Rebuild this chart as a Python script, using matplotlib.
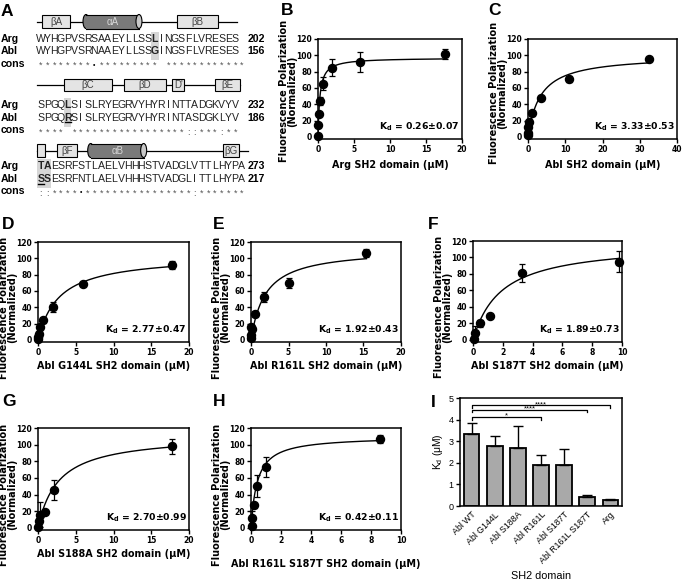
import numpy as np
import matplotlib
matplotlib.use('Agg')
import matplotlib.pyplot as plt
from matplotlib.patches import Rectangle, Ellipse

plt.rcParams['font.family'] = ['Liberation Sans', 'DejaVu Sans']
plt.rcParams['mathtext.fontset'] = 'custom'
plt.rcParams['mathtext.rm'] = 'Liberation Sans'
plt.rcParams['mathtext.bf'] = 'DejaVu Sans:bold'
plt.rcParams['mathtext.it'] = 'Liberation Sans:italic'

# ---------------- data ----------------
seq_arg = ["WYHGPVSRSAAEYLLSSLINGSFLVRESES",
           "SPGQLSISLRYEGRVYHYRINTTADGKVYV",
           "TAESRFSTLAELVHHHSTVADGLVTTLHYPA"]
seq_abl = ["WYHGPVSRNAAEYLLSSGINGSFLVRESES",
           "SPGQRSISLRYEGRVYHYRINTASDGKLYV",
           "SSESRFNTLAELVHHHSTVADGLITTLHYPA"]
seq_cons = ["********.********* ************",
            "**** *****************::***:**",
            "::****.****************:*******"]
num_arg = ["202", "232", "273"]
num_abl = ["156", "186", "217"]
# secondary structure: (kind, start_col, end_col, label)
ss_rows = [
    [("b", 0.7, 4.9, "βA"), ("a", 6.8, 15.6, "αA"), ("b", 20.8, 26.9, "βB")],
    [("b", 4.0, 11.1, "βC"), ("b", 12.9, 19.2, "βD"), ("b", 20.1, 21.9, "D'"), ("b", 26.5, 30.2, "βE")],
    [("b", 0.0, 1.1, ""), ("b", 2.9, 5.9, "βF"), ("a", 7.5, 16.3, "αB"), ("b", 27.7, 30.1, "βG")],
]
ss_line_end = [29.8, 30.2, 31.4]
hl_cols = [[17], [4], [0, 1]]
ul_cols = [[], [4], [0]]

B_x = [0.008, 0.024, 0.073, 0.22, 0.65, 1.96, 5.9, 17.6]
B_y = [1, 15, 28, 44, 65, 85, 92, 102]
B_e = [0, 0, 2, 5, 8, 10, 12, 6]
C_x = [0.015, 0.045, 0.13, 0.4, 1.2, 3.6, 10.9, 32.6]
C_y = [2, 5, 12, 18, 29, 48, 71, 95]
C_e = [1, 2, 2, 3, 3, 2, 4, 2]
D_x = [0.008, 0.024, 0.073, 0.22, 0.66, 1.98, 5.9, 17.8]
D_y = [1, 4, 7, 16, 24, 40, 68, 92]
D_e = [1, 2, 2, 3, 3, 6, 2, 5]
E_x = [0.007, 0.021, 0.063, 0.19, 0.57, 1.71, 5.13, 15.4]
E_y = [3, 6, 16, 14, 32, 53, 70, 107]
E_e = [1, 2, 3, 2, 3, 6, 6, 5]
F_x = [0.04, 0.13, 0.45, 1.15, 3.3, 9.8]
F_y = [1, 9, 20, 29, 81, 95]
F_e = [1, 8, 4, 2, 11, 13]
G_x = [0.05, 0.15, 0.25, 0.9, 2.1, 17.7]
G_y = [1, 8, 16, 19, 46, 98]
G_e = [1, 3, 15, 2, 12, 9]
H_x = [0.04, 0.07, 0.18, 0.38, 1.0, 8.6]
H_y = [2, 12, 27, 50, 73, 107]
H_e = [1, 8, 3, 13, 12, 5]

kd_vals = {"B": (0.26, 0.07, 97), "C": (3.33, 0.53, 100), "D": (2.77, 0.47, 104),
           "E": (1.92, 0.43, 112), "F": (1.89, 0.73, 118), "G": (2.70, 0.99, 112),
           "H": (0.42, 0.11, 110)}

I_labels = ["Abl WT", "Abl G144L", "Abl S188A", "Abl R161L", "Abl S187T", "Abl R161L S187T", "Arg"]
I_kd = [3.33, 2.77, 2.70, 1.92, 1.89, 0.42, 0.26]
I_err = [0.53, 0.47, 0.99, 0.43, 0.73, 0.11, 0.07]
I_sig = [(0, 3, "*", 4.11), (0, 5, "****", 4.46), (0, 6, "****", 4.66)]

# ---------------- figure ----------------
W, H = 683, 585
fig = plt.figure(figsize=(W / 100, H / 100), dpi=100)


def add_ax(l, t, r, b):
    return fig.add_axes([l / W, 1 - b / H, (r - l) / W, (b - t) / H])


# ---------------- panel A ----------------
axA = add_ax(0, 0, 280, 205)
axA.set_xlim(0, 280)
axA.set_ylim(205, 0)
axA.axis('off')
x0, pitch = 40.8, 6.7
base_arg = [41.7, 108.3, 169.3]
ss_y = [21.5, 85.0, 150.5]
fs_seq = 7.6
fs_lab = 7.6


def colx(c):
    return x0 + pitch * c


for r in range(3):
    yb = base_arg[r]
    ya = yb + 12.6
    yc = yb + 25.0
    cols = hl_cols[r]
    if cols:
        l = colx(min(cols)) - pitch / 2 - 0.5
        rr = colx(max(cols)) + pitch / 2 + 0.5
        axA.add_patch(Rectangle((l, yb - 10), rr - l, 28.5, facecolor='#d6d6d6', edgecolor='none', zorder=0))
    for c in ul_cols[r]:
        axA.plot([colx(c) - 3, colx(c) + 3], [ya + 1.6, ya + 1.6], color='black', lw=1.0)
    axA.text(1, yb, "Arg", fontsize=fs_lab, fontweight='bold', va='baseline', ha='left')
    axA.text(1, ya, "Abl", fontsize=fs_lab, fontweight='bold', va='baseline', ha='left')
    axA.text(1, yc, "cons", fontsize=fs_lab, fontweight='bold', va='baseline', ha='left')
    for s, yy in ((seq_arg[r], yb), (seq_abl[r], ya)):
        for c, ch in enumerate(s):
            axA.text(colx(c), yy, ch, fontsize=fs_seq, ha='center', va='baseline',
                     fontweight='bold' if c in cols else 'normal', color='#222222')
    for c, ch in enumerate(seq_cons[r]):
        if ch == '.':
            axA.text(colx(c), yc, '•', fontsize=5, ha='center', va='baseline', color='black')
        elif ch != ' ':
            axA.text(colx(c), yc + 1.5, ch, fontsize=6.5, ha='center', va='baseline', color='#555555')
    axA.text(265, yb, num_arg[r], fontsize=fs_lab, fontweight='bold', ha='right', va='baseline')
    axA.text(265, ya, num_abl[r], fontsize=fs_lab, fontweight='bold', ha='right', va='baseline')
    ys = ss_y[r]
    axA.plot([x0 - pitch / 2, x0 - pitch / 2 + pitch * ss_line_end[r]], [ys, ys], color='black', lw=0.9, zorder=1)
    for kind, c0, c1, lab in ss_rows[r]:
        xl = x0 - pitch / 2 + pitch * c0
        xr = x0 - pitch / 2 + pitch * c1
        if kind == 'b':
            axA.add_patch(Rectangle((xl, ys - 6.2), xr - xl, 12.4, facecolor='#e4e4e4',
                                    edgecolor='black', lw=0.8, zorder=2))
            if lab:
                axA.text((xl + xr) / 2, ys + 0.3, lab, fontsize=7, ha='center', va='center',
                         color='#444444', zorder=3)
        else:
            h = 14.0
            ew = 6.0
            axA.add_patch(Ellipse((xl + ew / 2, ys), ew, h, facecolor='#7a7a7a', edgecolor='black', lw=0.8, zorder=2))
            axA.add_patch(Rectangle((xl + ew / 2, ys - h / 2), xr - xl - ew, h, facecolor='#7a7a7a',
                                    edgecolor='none', zorder=2))
            axA.plot([xl + ew / 2, xr - ew / 2], [ys - h / 2, ys - h / 2], color='black', lw=0.8, zorder=3)
            axA.plot([xl + ew / 2, xr - ew / 2], [ys + h / 2, ys + h / 2], color='black', lw=0.8, zorder=3)
            axA.add_patch(Ellipse((xr - ew / 2, ys), ew, h, facecolor='#c8c8c8', edgecolor='black', lw=0.8, zorder=4))
            axA.text((xl + xr) / 2, ys + 0.3, lab, fontsize=7, ha='center', va='center',
                     color='#d8d8d8', zorder=5)

# ---------------- fit panels ----------------
FIT_FONT = ['DejaVu Sans']
tick_fs = 5.5
lab_fs = 6.9


def fit_panel(rect, x, y, e, key, xmax, xstep, xlabel, ylab_pos=0.5, xpad=4):
    ax = add_ax(*rect)
    wpx = rect[2] - rect[0]
    kd, kde, bmax = kd_vals[key]
    xs = np.linspace(0, max(x), 400)
    ax.plot(xs, bmax * xs / (kd + xs), color='black', lw=1.0, zorder=2)
    ax.errorbar(x, y, yerr=e, fmt='o', color='black', ms=5.8, capsize=2, elinewidth=0.9,
                capthick=0.9, zorder=3, clip_on=False)
    ax.set_xlim(0, xmax)
    ax.set_ylim(-2.5, 120)
    ax.set_xticks(np.arange(0, xmax + 0.001, xstep))
    ax.set_yticks(np.arange(0, 121, 20))
    for sp in ax.spines.values():
        sp.set_linewidth(1.1)
    ax.tick_params(direction='out', length=3, width=1.0, pad=1.5, labelsize=tick_fs)
    for lbl in ax.get_xticklabels() + ax.get_yticklabels():
        lbl.set_fontweight('bold')
        lbl.set_family(FIT_FONT)
    ax.set_xlabel(xlabel, fontsize=lab_fs, fontweight='bold', family=FIT_FONT, labelpad=xpad)
    ax.set_ylabel("Fluorescence Polarization\n(Normalized)", fontsize=7.0, fontweight='bold',
                  family=FIT_FONT, linespacing=0.72)
    ax.yaxis.set_label_coords(-21.0 / wpx, ylab_pos)
    ax.text(0.985, 0.06, r"K$_{\mathbf{d}}$ = %.2f±%.2f" % (kd, kde), transform=ax.transAxes,
            ha='right', va='bottom', fontsize=6.7, fontweight='bold', family=FIT_FONT)
    return ax


fit_panel((318, 39, 462, 139), B_x, B_y, B_e, "B", 20, 5, "Arg SH2 domain (μM)", 0.48, 4.5)
fit_panel((528, 39, 677, 139), C_x, C_y, C_e, "C", 40, 10, "Abl SH2 domain (μM)", 0.46, 4)
fit_panel((38, 242, 189, 342), D_x, D_y, D_e, "D", 20, 5, "Abl G144L SH2 domain (μM)", 0.345, 2.5)
fit_panel((251, 242, 401, 342), E_x, E_y, E_e, "E", 20, 5, "Abl R161L SH2 domain (μM)", 0.345, 2.5)
fit_panel((473, 241, 622, 342), F_x, F_y, F_e, "F", 10, 2, "Abl S187T SH2 domain (μM)", 0.345, 3)
fit_panel((38, 428, 189, 530), G_x, G_y, G_e, "G", 20, 5, "Abl S188A SH2 domain (μM)", 0.345, 3)
fit_panel((251, 428, 401, 530), H_x, H_y, H_e, "H", 10, 2, "Abl R161L S187T SH2 domain (μM)", 0.345, 10)

# ---------------- panel I ----------------
axI = add_ax(460, 398, 622, 506)
n = len(I_labels)
xp = np.arange(n)
axI.bar(xp, I_kd, width=0.68, color='#a9a9a9', edgecolor='black', lw=1.3, zorder=2)
axI.errorbar(xp, I_kd, yerr=[np.zeros(n), I_err], fmt='none', ecolor='black', elinewidth=1.0,
             capsize=3.5, capthick=1.0, zorder=3)
axI.set_xlim(-0.5, n - 0.5)
axI.set_ylim(0, 5)
axI.set_yticks(range(6))
axI.set_xticks(xp)
axI.set_xticklabels(I_labels, rotation=45, ha='right', rotation_mode='anchor', fontsize=6.3)
for sp in axI.spines.values():
    sp.set_linewidth(1.1)
axI.tick_params(axis='y', direction='out', length=3, width=1.0, pad=1.5, labelsize=6.5)
axI.tick_params(axis='x', length=0, pad=3)
axI.set_ylabel(r"K$_{\mathrm{d}}$ (μM)", fontsize=7.4, labelpad=3)
axI.set_xlabel("SH2 domain", fontsize=7.8, labelpad=4)
for a, b, s, hgt in I_sig:
    axI.plot([a, a, b, b], [hgt - 0.13, hgt, hgt, hgt - 0.13], color='black', lw=0.9, zorder=4)
    axI.text((a + b) / 2, hgt - 0.12, s, ha='center', va='bottom', fontsize=5.5, zorder=4)

# ---------------- panel letters ----------------
letters = [("A", 1, 4), ("B", 281, 3), ("C", 488, 3), ("D", 2, 217), ("E", 213, 217),
           ("F", 428, 217), ("G", 2, 394), ("H", 213, 394), ("I", 431, 395)]
for L, lx, ly in letters:
    fig.text(lx / W, 1 - ly / H, L, fontsize=12.5, fontweight='bold', ha='left', va='top')

fig.savefig("out.png", dpi=100)
